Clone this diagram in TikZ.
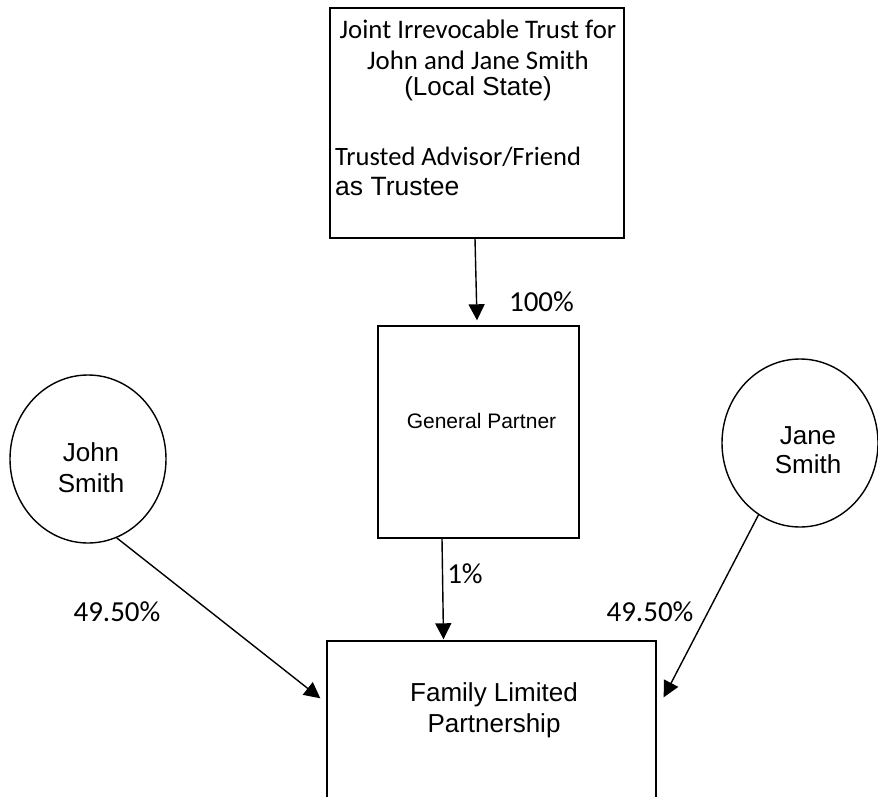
\documentclass[tikz,border=0pt]{standalone}
\usepackage{fontspec}
\setmainfont{Liberation Sans}
\newfontfamily\calib{Carlito}
\usetikzlibrary{arrows.meta,shapes.geometric,calc}

\begin{document}
\begin{tikzpicture}[x=1pt,y=-1pt,
  box/.style={draw,line width=1.4pt,inner sep=0pt},
  person/.style={draw,ellipse,line width=1.4pt,inner sep=0pt,
    minimum width=156pt,minimum height=168pt},
  arr/.style={line width=1.4pt,-{Triangle[length=16pt,width=16pt]}},
  pct/.style={inner sep=0pt,anchor=base,font=\calib\fontsize{29}{34}\selectfont},
  txt/.style={inner sep=0pt,align=center,font=\fontsize{26}{31}\selectfont}]
 \useasboundingbox (0,0) rectangle (878,797);
 \clip (0,0) rectangle (878,797);
 % boxes and people
 \node[box,minimum width=294pt,minimum height=230pt] (trust) at (477,123) {};
 \node[box,minimum width=201pt,minimum height=212pt] (gp) at (478.5,432) {};
 \node[box,minimum width=329pt,minimum height=189pt] (flp) at (491.5,735.5) {};
 \node[person] (john) at (88,459) {};
 \node[person] (jane) at (800,443) {};
 % texts
 \node[txt,anchor=north,font=\calib\fontsize{26.8}{31}\selectfont] (trusthead) at (478,20)
   {Joint Irrevocable Trust for\\John and Jane Smith\\[-5pt]
    {\rmfamily\fontsize{26}{28}\selectfont (Local State)}};
 \node[txt,anchor=north west,align=left,font=\fontsize{26.5}{30}\selectfont] (trustee) at (335,147)
   {{\calib Trusted Advisor/Friend}\\as Trustee};
 \node[inner sep=0pt,anchor=base,font=\fontsize{21}{25}\selectfont] (gptxt) at (481.5,428) {General Partner};
 \node[txt] (flptxt) at (494,710) {Family Limited\\Partnership};
 \node[txt] (johntxt) at (91,468) {John\\Smith};
 \node[txt,font=\fontsize{26}{29}\selectfont] (janetxt) at (808,450) {Jane\\Smith};
 % connectors
 \draw[arr] ($(trust.south)+(-2,0)$) -- ($(gp.north)+(-1.5,-5)$);
 \draw[arr] ($(gp.south)+(-36.5,0)$) -- ($(flp.north)+(-48,-1)$);
 \draw[arr] (john.-70) -- ($(flp.north west)+(-6,58)$);
 \draw[arr] (jane.-120) -- ($(flp.north east)+(7,57)$);
 % shares
 \node[pct] (p100) at (541.5,311.7) {100\%};
 \node[pct] (p1) at (465,583) {1\%};
 \node[pct] (pjohn) at (117,621.7) {49.50\%};
 \node[pct] (pjane) at (650,621.7) {49.50\%};
\end{tikzpicture}
\end{document}
